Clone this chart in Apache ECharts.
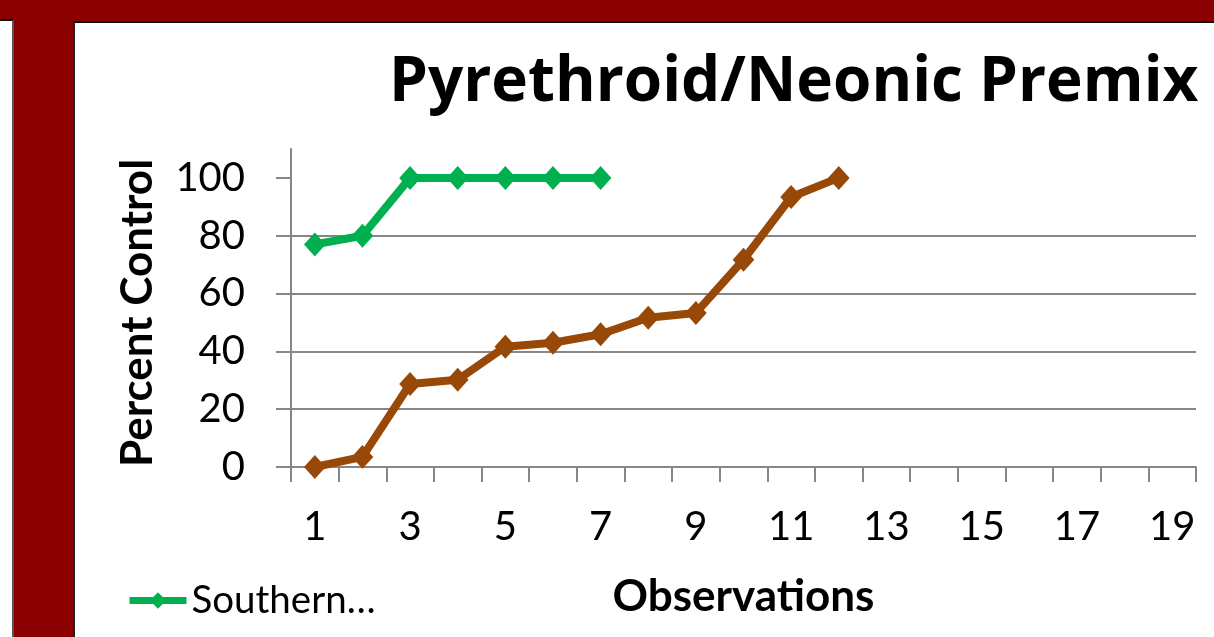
<!DOCTYPE html>
<html>
<head>
<meta charset="utf-8">
<script src="https://cdn.jsdelivr.net/npm/echarts@6/dist/echarts.min.js"></script>
<style>
  html, body { margin: 0; padding: 0; }
  body { width: 1214px; height: 637px; background: #8B0000; position: relative; overflow: hidden; }
  #leftstrip { position: absolute; left: 0; top: 19px; width: 14px; height: 640px; background: #fff; border-top: 2px solid #111; border-right: 2px solid #555; box-sizing: border-box; }
  #panel { position: absolute; left: 73px; top: 21px; width: 1145px; height: 620px; background: #fff; border-top: 2px solid #111; border-left: 2px solid #222; box-sizing: border-box; }
  #chart { position: absolute; left: 0; top: 0; width: 1214px; height: 637px; }
</style>
</head>
<body>
<div id="leftstrip"></div>
<div id="panel"></div>
<div id="chart"></div>
<script>
const categories = ['1','2','3','4','5','6','7','8','9','10','11','12','13','14','15','16','17','18','19'];
const southernName = 'Southern…';
const southernValues = [77, 80, 100, 100, 100, 100, 100];
const secondName = 'Series 2';
const secondValues = [0, 3.5, 28.7, 30.2, 41.6, 43, 45.9, 51.6, 53.3, 71.7, 93.4, 100];
const yTicks = [0, 20, 40, 60, 80, 100];

const FONT = 'Lato, "Open Sans", sans-serif';
const chart = echarts.init(document.getElementById('chart'), null, { renderer: 'canvas' });
chart.setOption({
  backgroundColor: 'transparent',
  animation: false,
  title: {
    text: 'Pyrethroid/Neonic Premix',
    left: 384, top: 47,
    textStyle: { fontFamily: '"Open Sans", Lato, sans-serif', fontWeight: 'bold', fontSize: 62, color: '#000' }
  },
  legend: {
    data: [southernName],
    left: 121, top: 576,
    itemWidth: 57, itemHeight: 17, itemGap: 10,
    lineStyle: { width: 7 },
    textStyle: { fontFamily: FONT, fontSize: 38.5, color: '#000' }
  },
  grid: { left: 291, right: 18, top: 149, bottom: 170, containLabel: false },
  xAxis: {
    type: 'category',
    data: categories,
    boundaryGap: true,
    name: 'Observations',
    nameLocation: 'middle',
    nameGap: 108,
    nameTextStyle: { fontFamily: FONT, fontWeight: 'bold', fontSize: 44, color: '#000' },
    axisLine: { show: true, lineStyle: { color: '#868686', width: 2 } },
    axisTick: { show: true, interval: 0, length: 15, inside: false, alignWithLabel: false, lineStyle: { color: '#868686', width: 2 } },
    axisLabel: { interval: 1, margin: 40, fontFamily: FONT, fontSize: 40, color: '#000' },
    splitLine: { show: false }
  },
  yAxis: {
    type: 'value',
    min: 0, max: 110, interval: 20,
    name: 'Percent Control',
    nameLocation: 'middle',
    nameGap: 131,
    nameRotate: 90,
    nameTextStyle: { fontFamily: FONT, fontWeight: 'bold', fontSize: 44, color: '#000', padding: [0, 10, 0, 0] },
    axisLine: { show: true, lineStyle: { color: '#868686', width: 2 } },
    axisTick: { show: true, length: 15, inside: false, customValues: yTicks, lineStyle: { color: '#868686', width: 2 } },
    axisLabel: { margin: 46, fontFamily: FONT, fontSize: 40, color: '#000', customValues: yTicks },
    splitLine: { show: true, showMaxLine: false, lineStyle: { color: '#868686', width: 2 } }
  },
  series: [
    {
      name: secondName, type: 'line', data: secondValues,
      symbol: 'diamond', symbolSize: [19, 21],
      lineStyle: { color: '#984807', width: 8 },
      itemStyle: { color: '#984807', borderColor: '#984807', borderWidth: 2 },
      z: 2
    },
    {
      name: southernName, type: 'line', data: southernValues,
      symbol: 'diamond', symbolSize: [19, 21],
      lineStyle: { color: '#00B050', width: 8 },
      itemStyle: { color: '#00B050', borderColor: '#00B050', borderWidth: 2 },
      z: 3
    }
  ]
});
</script>
</body>
</html>
